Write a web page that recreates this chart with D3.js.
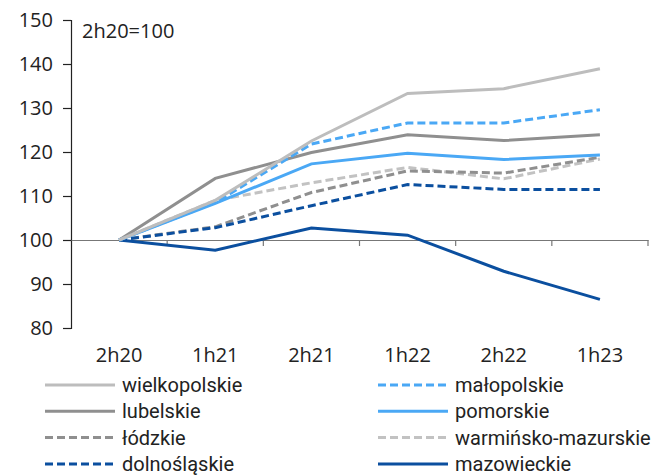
<!DOCTYPE html>
<html>
<head>
<meta charset="utf-8">
<script src="https://cdn.jsdelivr.net/npm/d3@7"></script>
<style>
  body { margin: 0; background: #fff; }
  svg text { font-family: "Open Sans", "Noto Sans", sans-serif; fill: #222; }
  svg text.legend-label { font-family: "Liberation Sans Narrow", "Roboto", sans-serif; }
</style>
</head>
<body>
<svg id="chart" width="666" height="475"></svg>
<script>
// Periods on the x axis
const periods = ["2h20", "1h21", "2h21", "1h22", "2h22", "1h23"];
const yTicks = [80, 90, 100, 110, 120, 130, 140, 150];

// Regional index values, 2h20 = 100
const wielkopolskie = [100, 109.0, 122.5, 133.3, 134.4, 138.9];
const malopolskie   = [100, 108.5, 121.8, 126.6, 126.6, 129.6];
const lubelskie     = [100, 114.0, 119.9, 123.9, 122.6, 123.9];
const pomorskie     = [100, 108.3, 117.3, 119.7, 118.3, 119.3];
const lodzkie       = [100, 103.0, 110.8, 115.7, 115.2, 118.8];
const warminsko     = [100, 109.0, 113.0, 116.5, 113.9, 118.4];
const dolnoslaskie  = [100, 102.8, 107.8, 112.6, 111.5, 111.5];
const mazowieckie   = [100, 97.7, 102.7, 101.1, 92.9, 86.5];

const seriesNames = ["wielkopolskie", "małopolskie", "lubelskie", "pomorskie",
                     "łódzkie", "warmińsko-mazurskie", "dolnośląskie", "mazowieckie"];
const seriesValues = [wielkopolskie, malopolskie, lubelskie, pomorskie,
                      lodzkie, warminsko, dolnoslaskie, mazowieckie];
const seriesColors = ["#bdbdbd", "#4aa8f5", "#8f8f8f", "#4aa8f5",
                      "#8f8f8f", "#c2c2c2", "#0b4f9f", "#0b4f9f"];
const seriesDashed = [false, true, false, false, true, true, true, false];

const svg = d3.select("#chart");
const margin = { left: 71, right: 18, top: 20, bottom: 147 };
const width = 666, height = 475;

const x = d3.scaleBand().domain(periods)
  .range([margin.left, width - margin.right]).padding(0);
const y = d3.scaleLinear().domain([80, 150])
  .range([height - margin.bottom, margin.top]);

// y axis
const yAxis = svg.append("g")
  .attr("transform", `translate(${margin.left},0)`)
  .call(d3.axisLeft(y).tickValues(yTicks).tickSize(8).tickPadding(10));
yAxis.select(".domain").attr("stroke", "#222").attr("stroke-width", 1.2);
yAxis.selectAll(".tick line").attr("stroke", "#222").attr("stroke-width", 1.2);
yAxis.selectAll("text").style("font-size", "20px").attr("fill", "#222");

// x axis sits on the 100 line; labels placed below the plot
const xAxis = svg.append("g")
  .attr("transform", `translate(0,${y(100)})`)
  .call(d3.axisBottom(x).tickSize(0).tickSizeOuter(0).tickFormat(""));
xAxis.select(".domain").attr("stroke", "#777").attr("stroke-width", 1.2);

// boundary ticks between categories
const bounds = periods.map(p => x(p)).concat([x(periods[periods.length - 1]) + x.bandwidth()]);
svg.append("g").selectAll("line").data(bounds.slice(1)).join("line")
  .attr("x1", d => d).attr("x2", d => d)
  .attr("y1", y(100)).attr("y2", y(100) + 6)
  .attr("stroke", "#777").attr("stroke-width", 1.2);

svg.append("g").selectAll("text").data(periods).join("text")
  .attr("x", d => x(d) + x.bandwidth() / 2)
  .attr("y", y(80) + 34)
  .attr("text-anchor", "middle")
  .style("font-size", "20px")
  .text(d => d);

// base note
svg.append("text").attr("x", 82).attr("y", 38)
  .style("font-size", "20px").text("2h20=100");

// lines
const line = d3.line()
  .x((d, i) => x(periods[i]) + x.bandwidth() / 2)
  .y(d => y(d));

const order = [5, 4, 6, 7, 3, 2, 1, 0];
svg.append("g").selectAll("path").data(order).join("path")
  .attr("d", i => line(seriesValues[i]))
  .attr("fill", "none")
  .attr("stroke", i => seriesColors[i])
  .attr("stroke-width", 3)
  .attr("stroke-dasharray", i => seriesDashed[i] ? "8,4" : null);

// legend, two columns
const legend = svg.append("g");
seriesNames.forEach((name, i) => {
  const col = i % 2, row = Math.floor(i / 2);
  const lx = col === 0 ? 45 : 378;
  const ly = 385 + row * 26.3;
  legend.append("line")
    .attr("x1", lx).attr("x2", lx + 70)
    .attr("y1", ly).attr("y2", ly)
    .attr("stroke", seriesColors[i]).attr("stroke-width", 3)
    .attr("stroke-dasharray", seriesDashed[i] ? "8,4" : null);
  legend.append("text")
    .attr("class", "legend-label")
    .attr("x", lx + 77).attr("y", ly + 7)
    .style("font-size", "20px")
    .text(name);
});
</script>
</body>
</html>
